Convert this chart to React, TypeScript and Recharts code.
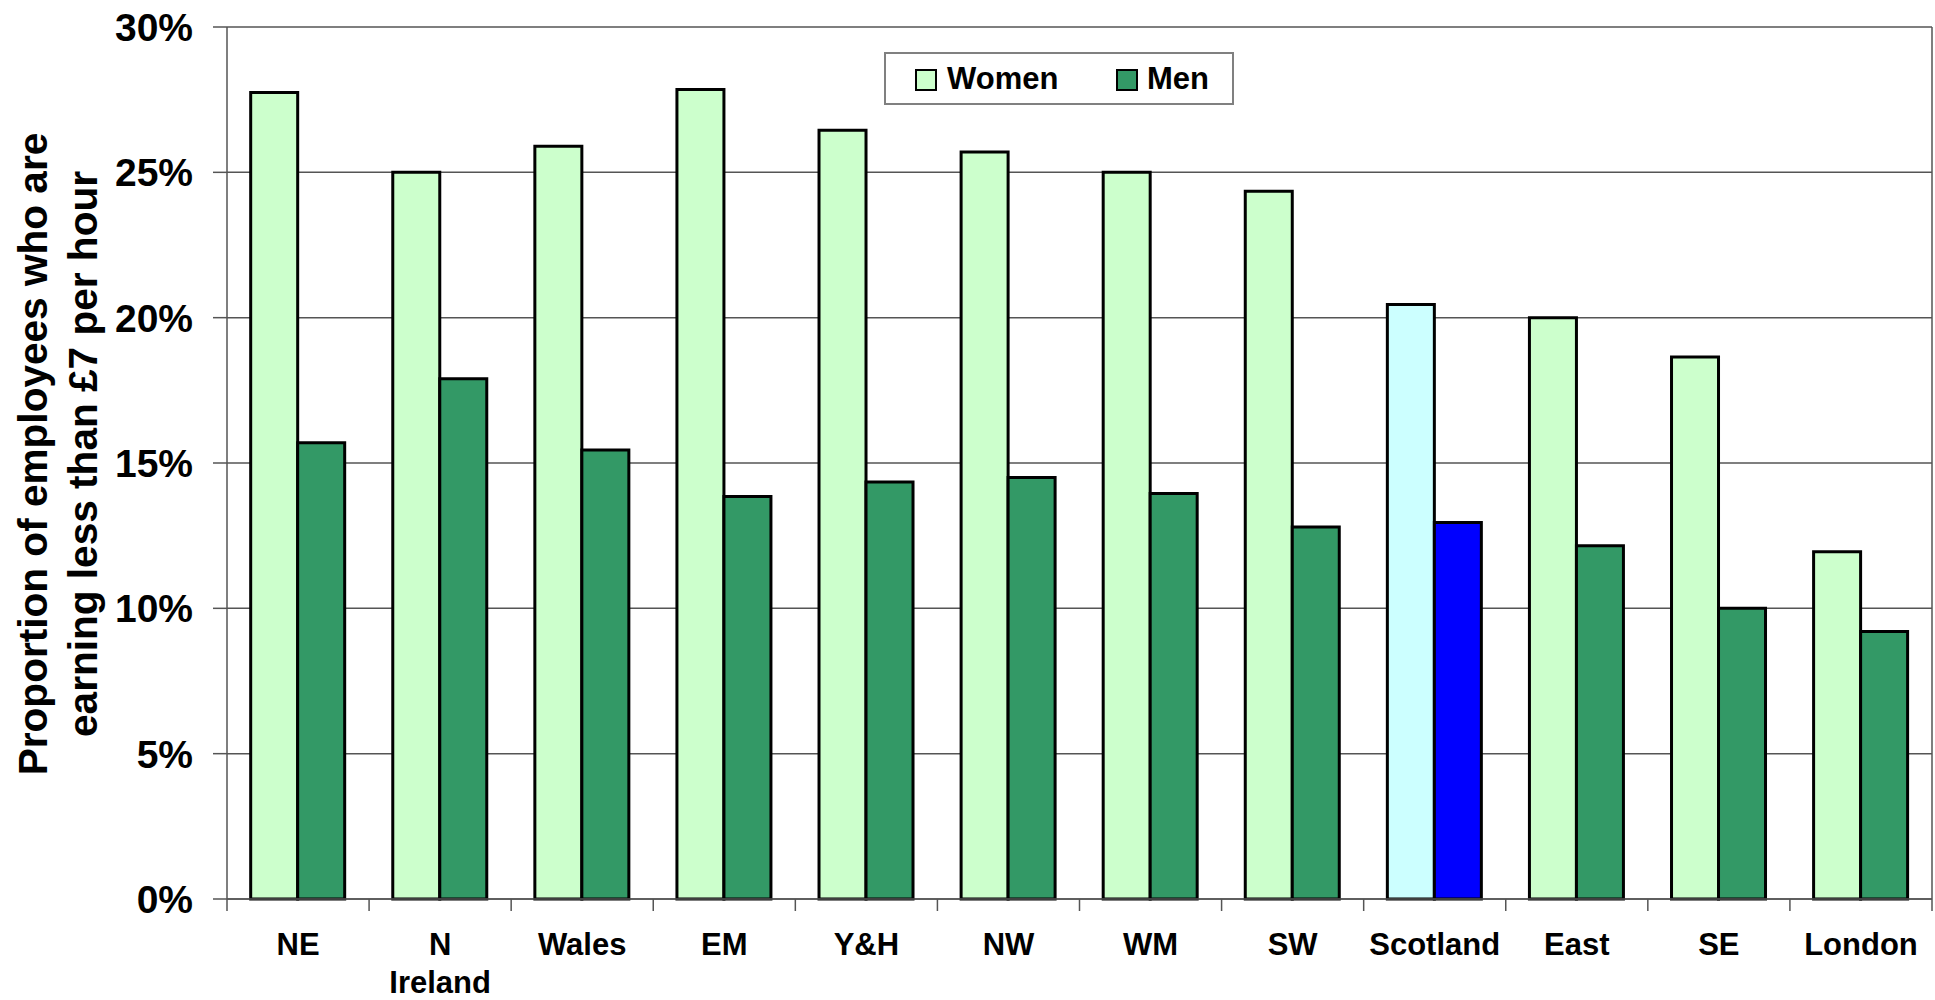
import React from "react";
import { BarChart, Bar, XAxis, YAxis, CartesianGrid, Cell, Label } from "recharts";

const REGIONS = ["NE", "N Ireland", "Wales", "EM", "Y&H", "NW", "WM", "SW", "Scotland", "East", "SE", "London"];
const WOMEN = [27.75, 25.0, 25.9, 27.85, 26.45, 25.7, 25.0, 24.35, 20.45, 20.0, 18.65, 11.95];
const MEN = [15.7, 17.9, 15.45, 13.85, 14.35, 14.5, 13.95, 12.8, 12.95, 12.15, 10.0, 9.2];
const Y_TICKS = [0, 5, 10, 15, 20, 25, 30];
const SERIES = ["Women", "Men"];
const HIGHLIGHT = "Scotland";

const FONT = "'Liberation Sans', Arial, sans-serif";
const W_FILL = "#CCFFCC";
const M_FILL = "#339966";
const W_HI = "#CCFFFF";
const M_HI = "#0000FF";
const AXIS = "#555555";

const data = REGIONS.map((region, i) => ({ region, women: WOMEN[i], men: MEN[i] }));

const PLOT_LEFT = 227;
const PLOT_RIGHT = 1932;
const BAND = (PLOT_RIGHT - PLOT_LEFT) / REGIONS.length;

const XTick = (props: any) => {
  const { x, y, payload, index } = props;
  const lines = String(payload.value).split(" ");
  const half = BAND / 2;
  return (
    <g>
      <line x1={x - half} x2={x - half} y1={y} y2={y + 12} stroke={AXIS} strokeWidth={1.5} />
      {index === REGIONS.length - 1 && (
        <line x1={x + half} x2={x + half} y1={y} y2={y + 12} stroke={AXIS} strokeWidth={1.5} />
      )}
      <text x={x} y={y + 56} textAnchor="middle" fontSize={31} fontWeight="bold" fill="#000" fontFamily={FONT}>
        {lines.map((l, i) => (
          <tspan key={i} x={x} dy={i === 0 ? 0 : 38}>
            {l}
          </tspan>
        ))}
      </text>
    </g>
  );
};

const YTitle = (props: any) => {
  const { viewBox } = props;
  const cy = viewBox.y + viewBox.height / 2 - 9;
  return (
    <text
      transform={`translate(63, ${cy}) rotate(-90)`}
      textAnchor="middle"
      fontSize={40.6}
      fontWeight="bold"
      fill="#000"
      fontFamily={FONT}
    >
      <tspan x={0} y={-16}>Proportion of employees who are</tspan>
      <tspan x={0} y={34}>earning less than £7 per hour</tspan>
    </text>
  );
};

const Swatch = ({ color, left }: { color: string; left: number }) => (
  <div
    style={{
      position: "absolute",
      left,
      top: 15,
      width: 22,
      height: 22,
      boxSizing: "border-box",
      background: color,
      border: "2px solid #000",
    }}
  />
);

const LegendBox = () => (
  <div
    style={{
      position: "absolute",
      left: 884,
      top: 52,
      width: 350,
      height: 53,
      boxSizing: "border-box",
      border: "2px solid #808080",
      background: "#fff",
      fontFamily: FONT,
      fontWeight: "bold",
      fontSize: 31,
      color: "#000",
    }}
  >
    <Swatch color={W_FILL} left={29} />
    <div style={{ position: "absolute", left: 61, top: 7, lineHeight: "36px" }}>{SERIES[0]}</div>
    <Swatch color={M_FILL} left={230} />
    <div style={{ position: "absolute", left: 261, top: 7, lineHeight: "36px" }}>{SERIES[1]}</div>
  </div>
);

export default function App() {
  return (
    <div style={{ position: "absolute", left: 0, top: 0, width: 1935, height: 1000, background: "#fff", fontFamily: FONT }}>
      <BarChart
        width={1935}
        height={1000}
        data={data}
        margin={{ top: 27, right: 1935 - PLOT_RIGHT, left: 0, bottom: 0 }}
        barCategoryGap="16.67%"
        barGap={0}
      >
        <CartesianGrid
          stroke={AXIS}
          strokeWidth={1.5}
          vertical={true}
          verticalCoordinatesGenerator={({ offset }: any) => [offset.left + offset.width]}
        />
        <XAxis
          dataKey="region"
          height={101}
          tickSize={0}
          tickMargin={0}
          tickLine={false}
          axisLine={{ stroke: AXIS, strokeWidth: 1.5 }}
          tick={<XTick />}
          interval={0}
        />
        <YAxis
          width={PLOT_LEFT}
          domain={[0, 30]}
          ticks={Y_TICKS}
          tickFormatter={(v: number) => `${v}%`}
          tickSize={14}
          tickMargin={20}
          tickLine={{ stroke: AXIS, strokeWidth: 1.5 }}
          axisLine={{ stroke: AXIS, strokeWidth: 1.5 }}
          tick={{ fontSize: 39, fontWeight: "bold", fill: "#000", fontFamily: FONT }}
          interval={0}
        >
          <Label content={<YTitle />} />
        </YAxis>
        <Bar dataKey="women" name={SERIES[0]} stroke="#000" strokeWidth={3} isAnimationActive={false}>
          {data.map((d) => (
            <Cell key={d.region} fill={d.region === HIGHLIGHT ? W_HI : W_FILL} />
          ))}
        </Bar>
        <Bar dataKey="men" name={SERIES[1]} stroke="#000" strokeWidth={3} isAnimationActive={false}>
          {data.map((d) => (
            <Cell key={d.region} fill={d.region === HIGHLIGHT ? M_HI : M_FILL} />
          ))}
        </Bar>
      </BarChart>
      <LegendBox />
    </div>
  );
}
